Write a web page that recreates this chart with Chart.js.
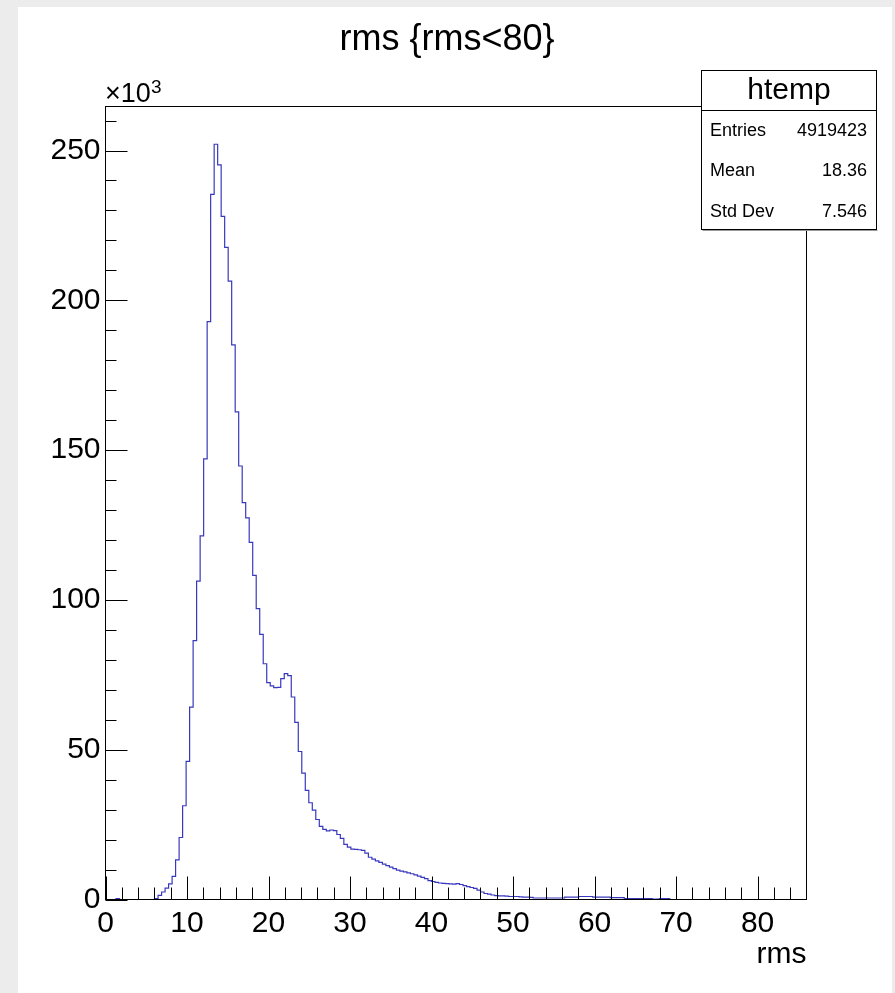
<!DOCTYPE html>
<html>
<head>
<meta charset="utf-8">
<title>rms {rms<80}</title>
<script src="https://cdn.jsdelivr.net/npm/chart.js@4.4.0/dist/chart.umd.min.js"></script>
<style>
  html, body { margin: 0; padding: 0; background: #ececec; }
  #pad { position: absolute; left: 18px; top: 7px; width: 874px; height: 986px; background: #fff; }
  canvas { display: block; }
</style>
</head>
<body>
<div id="pad"><canvas id="hist" width="874" height="986"></canvas></div>
<script>
// htemp: bins of width 0.43 starting at 0, contents in units of 10^3 entries
const histName = 'htemp';
const histTitle = 'rms {rms<80}';
const xTitle = 'rms';
const binLow = 0;
const binWidth = 0.43;
const binCounts = [
  0, 0, 0, 0.3, 0, 0, 0, 0, 0, 0,
  0, 0, 0, 0, 0.3, 1.4, 2.5, 3.8, 5.2, 7.7,
  13.2, 20.7, 31.3, 46.1, 64.2, 86.4, 106.3, 121.4, 147.1, 192.9,
  235.4, 252.1, 245.2, 228.0, 217.7, 206.4, 185.1, 162.8, 144.7, 132.5,
  127.4, 119.2, 108.2, 97.1, 88.5, 78.7, 72.4, 71.3, 70.7, 70.8,
  73.7, 75.4, 74.7, 67.6, 59.1, 49.4, 42.2, 36.4, 32.3, 29.8,
  26.7, 24.4, 23.4, 22.9, 23.2, 23.0, 21.7, 20.4, 18.4, 17.5,
  16.8, 16.7, 16.6, 16.4, 15.5, 14.1, 13.5, 12.9, 12.4, 11.8,
  11.3, 10.8, 10.3, 9.8, 9.5, 9.2, 8.9, 8.6, 8.2, 7.8,
  7.4, 7.0, 6.3, 6.0, 5.7, 5.5, 5.4, 5.3, 5.2, 5.1,
  5.3, 5.0, 4.6, 4.3, 4.0, 3.7, 3.1, 2.5, 2.0, 1.8,
  1.5, 1.3, 1.2, 1.2, 1.1, 1.0, 1.0, 1.0, 0.9, 0.8,
  0.8, 0.7, 0.5, 0.5, 0.5, 0.5, 0.5, 0.5, 0.5, 0.5,
  0.5, 0.8, 0.8, 0.8, 0.8, 1.0, 1.0, 1.0, 1.0, 0.8,
  0.8, 0.8, 0.8, 0.8, 0.6, 0.6, 0.6, 0.6, 0.3, 0.3,
  0.3, 0.3, 0.3, 0.3, 0.3, 0.3, 0.1, 0.1, 0.3, 0.3,
  0.3, 0, 0, 0
];
const xMin = 0, xMax = 86;
const yMin = 0, yMax = 264.7;
const xLabelStep = 10, xMinorStep = 2;
const yLabelStep = 50, yMinorStep = 10;
const statLabels = ['Entries', 'Mean', 'Std Dev'];
const statValues = ['4919423', '18.36', '7.546'];

const FONT = "'Liberation Sans', Arial, Helvetica, sans-serif";
const lineBlue = 'rgb(56, 56, 190)';

const points = binCounts.map((c, i) => ({ x: binLow + i * binWidth, y: c }));
points.push({ x: binLow + binCounts.length * binWidth, y: 0 });

// ROOT-like pad: frame, inward ticks, title, exponent, stats box
const rootPad = {
  id: 'rootPad',
  afterDatasetsDraw(chart) {
    const { ctx, chartArea: a, scales: { x, y } } = chart;
    const left = Math.floor(a.left) + 0.5, bottom = Math.floor(a.bottom) + 0.5;
    const right = Math.floor(a.right) + 0.5, top = Math.floor(a.top) + 0.5;
    ctx.save();
    ctx.strokeStyle = '#000';
    ctx.lineWidth = 1;
    ctx.strokeRect(left, top, right - left, bottom - top);
    ctx.beginPath();
    for (let v = xMin; v < xMax; v += xMinorStep) {
      const px = Math.round(x.getPixelForValue(v)) + 0.5;
      const len = v % xLabelStep === 0 ? 23 : 12;
      ctx.moveTo(px, bottom);
      ctx.lineTo(px, bottom - len);
    }
    for (let v = yMin; v <= yMax; v += yMinorStep) {
      const py = Math.round(y.getPixelForValue(v)) + 0.5;
      const len = v % yLabelStep === 0 ? 22 : 11;
      ctx.moveTo(left, py);
      ctx.lineTo(left + len, py);
    }
    ctx.stroke();
    ctx.restore();
  },
  afterDraw(chart) {
    const { ctx, chartArea: a } = chart;
    ctx.save();
    ctx.fillStyle = '#000';

    // title
    ctx.font = '36px ' + FONT;
    ctx.textAlign = 'center';
    ctx.textBaseline = 'middle';
    ctx.fillText(histTitle, 429, 33);

    // exponent of y axis
    ctx.textAlign = 'left';
    ctx.textBaseline = 'alphabetic';
    ctx.font = '27px ' + FONT;
    ctx.fillText('\u00d710', 87, 94.5);
    ctx.font = '19px ' + FONT;
    ctx.fillText('3', 133, 86);

    // x axis title
    ctx.font = '30px ' + FONT;
    ctx.textAlign = 'right';
    ctx.fillText(xTitle, a.right, 956);

    // stats box
    const bx = 683.5, by = 63.5, bw = 175, bh = 159, sep = 103.5;
    ctx.fillStyle = '#fff';
    ctx.fillRect(bx, by, bw, bh);
    ctx.strokeStyle = '#000';
    ctx.lineWidth = 1;
    ctx.strokeRect(bx, by, bw, bh);
    ctx.beginPath();
    ctx.moveTo(bx, sep);
    ctx.lineTo(bx + bw, sep);
    ctx.stroke();
    ctx.strokeStyle = '#999';
    ctx.beginPath();
    ctx.moveTo(bx + 1, by + bh + 1);
    ctx.lineTo(bx + bw + 1, by + bh + 1);
    ctx.stroke();

    ctx.fillStyle = '#000';
    ctx.font = '30px ' + FONT;
    ctx.textAlign = 'center';
    ctx.textBaseline = 'middle';
    ctx.fillText(histName, bx + bw / 2, 84);
    ctx.font = '18px ' + FONT;
    statLabels.forEach((lab, i) => {
      const ty = 124 + i * 40.5;
      ctx.textAlign = 'left';
      ctx.fillText(lab, 692, ty);
      ctx.textAlign = 'right';
      ctx.fillText(statValues[i], 849, ty);
    });
    ctx.restore();
  }
};

new Chart(document.getElementById('hist'), {
  type: 'line',
  data: {
    datasets: [{
      label: histName,
      data: points,
      stepped: true,
      borderColor: lineBlue,
      borderWidth: 1.2,
      pointRadius: 0,
      fill: false,
      tension: 0
    }]
  },
  options: {
    responsive: false,
    devicePixelRatio: 1,
    animation: false,
    events: [],
    layout: { padding: { left: 0, top: 99.5, right: 85.5, bottom: 33.5 } },
    plugins: { legend: { display: false }, tooltip: { enabled: false }, title: { display: false } },
    scales: {
      x: {
        type: 'linear',
        min: xMin,
        max: xMax,
        grid: { display: false, drawTicks: false },
        border: { display: false },
        ticks: {
          stepSize: xLabelStep,
          includeBounds: false,
          autoSkip: false,
          maxRotation: 0,
          padding: 6,
          color: '#000',
          font: { family: FONT, size: 30 }
        },
        afterFit(scale) { scale.height = 60; }
      },
      y: {
        type: 'linear',
        min: yMin,
        max: yMax,
        grid: { display: false, drawTicks: false },
        border: { display: false },
        ticks: {
          stepSize: yLabelStep,
          includeBounds: false,
          padding: 5,
          color: '#000',
          font: { family: FONT, size: 30 }
        },
        afterFit(scale) { scale.width = 87.5; }
      }
    }
  },
  plugins: [rootPad]
});
</script>
</body>
</html>
